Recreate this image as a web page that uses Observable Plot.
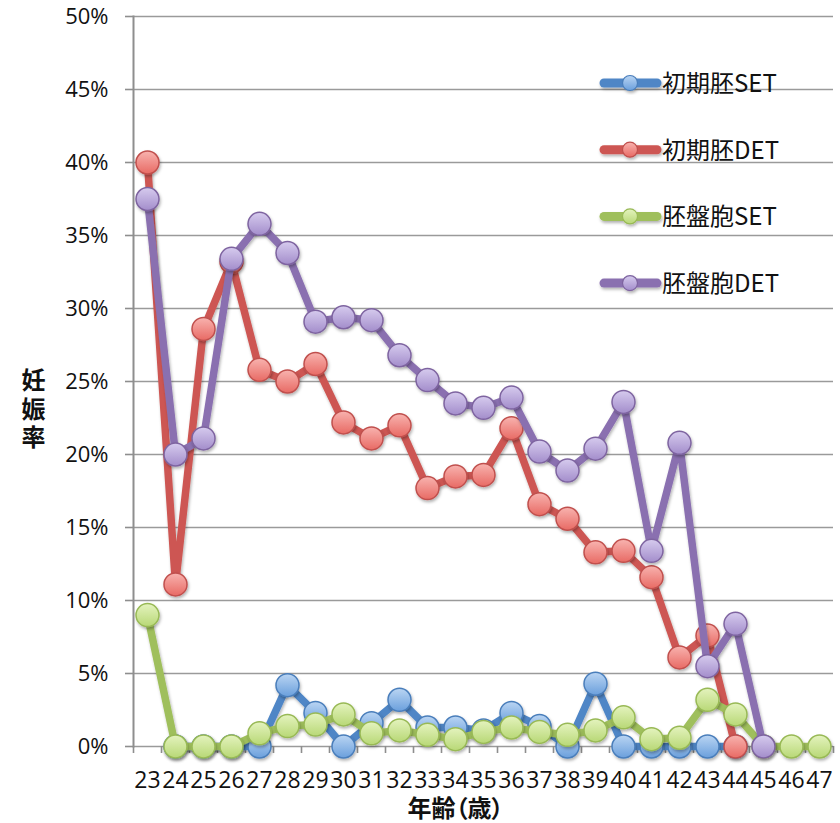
<!DOCTYPE html>
<html>
<head>
<meta charset="utf-8">
<script src="https://cdn.jsdelivr.net/npm/d3@7"></script>
<script src="https://cdn.jsdelivr.net/npm/@observablehq/plot@0.6"></script>
<style>
  html, body { margin: 0; padding: 0; background: #fff; }
  #wrap { position: relative; width: 840px; height: 823px; }
  #legend { position: absolute; left: 0; top: 0; pointer-events: none; }
</style>
</head>
<body>
<div id="wrap"></div>
<script>
// ---- data (pregnancy rate, %) ----
const ages = [23,24,25,26,27,28,29,30,31,32,33,34,35,36,37,38,39,40,41,42,43,44,45,46,47];
const seriesNames = ["初期胚SET", "初期胚DET", "胚盤胞SET", "胚盤胞DET"];
const earlySET = [null,0,0,0,0,4.2,2.3,0,1.6,3.2,1.3,1.3,1.1,2.3,1.4,0,4.3,0,0,0,0,0,null,null,null];
const earlyDET = [40.0,11.1,28.6,33.2,25.8,25.0,26.2,22.2,21.1,22.0,17.7,18.5,18.6,21.8,16.6,15.6,13.3,13.4,11.6,6.1,7.6,0,null,null,null];
const blastSET = [9.0,0,0,0,0.9,1.4,1.5,2.2,0.9,1.1,0.8,0.5,1.0,1.3,1.0,0.8,1.1,2.0,0.5,0.6,3.2,2.2,0,0,0];
const blastDET = [37.5,20.0,21.1,33.4,35.8,33.8,29.1,29.4,29.2,26.8,25.1,23.5,23.2,23.9,20.2,18.9,20.4,23.6,13.4,20.8,5.5,8.4,0,null,null];
const yTicks = [0,5,10,15,20,25,30,35,40,45,50];
const yLabel = "妊娠率";
const xLabel = "年齢（歳）";

// ---- styles ----
const styles = [
  {id: "gBlue",   line: "#4F86C6", stroke: "#4A7EBB", top: "#BAD5F3", bottom: "#6A9FDC"},
  {id: "gRed",    line: "#CD5753", stroke: "#C0504D", top: "#F8B3AF", bottom: "#E86A64"},
  {id: "gGreen",  line: "#9FBF5C", stroke: "#98B955", top: "#E4F3BE", bottom: "#B8D876"},
  {id: "gPurple", line: "#8A70B0", stroke: "#7E64A0", top: "#D6CBEE", bottom: "#A38DCB"}
];
const allSeries = [earlySET, earlyDET, blastSET, blastDET];

const marks = [
  Plot.gridY(yTicks, {stroke: "#9a9a9a", strokeOpacity: 1, strokeWidth: 1.6}),
  Plot.frame({anchor: "left", stroke: "#8e8e8e", strokeWidth: 2}),
  Plot.axisY(yTicks, {tickSize: 8, tickPadding: 17, fontSize: 22, stroke: "#8e8e8e", strokeWidth: 1.6, label: null, tickFormat: d => d + "%"}),
  Plot.axisX(ages, {tickSize: 7, dx: -14, stroke: "#8e8e8e", strokeWidth: 1.6, tickFormat: () => "", label: null}),
  Plot.axisX([ages[ages.length - 1]], {tickSize: 7, dx: 14, stroke: "#8e8e8e", strokeWidth: 1.6, tickFormat: () => "", label: null}),
  Plot.axisX(ages, {tickSize: 0, tickPadding: 25, fontSize: 23, label: null}),
  Plot.text([yLabel.split("").join("\n")], {frameAnchor: "left", dx: -100, dy: 27, text: d => d, fontSize: 24, fontWeight: "bold", lineHeight: 1.17, fontFamily: "Noto Sans CJK JP", textAnchor: "middle", fill: "#111"}),
  Plot.text([xLabel], {frameAnchor: "bottom", dx: -28, dy: 70, text: d => d, fontSize: 24, fontWeight: "bold", fontFamily: "Noto Sans CJK JP", fill: "#111"})
];

allSeries.forEach((vals, k) => {
  const s = styles[k];
  marks.push(Plot.line(ages, {x: d => d, y: (d, i) => vals[i], stroke: s.line, strokeWidth: 7.5, strokeLinejoin: "round", strokeLinecap: "round"}));
  marks.push(Plot.dot(ages, {x: d => d, y: (d, i) => vals[i], r: 11.5, fill: `url(#${s.id})`, stroke: s.stroke, strokeWidth: 1.5}));
});

const chart = Plot.plot({
  width: 840,
  height: 823,
  marginLeft: 133,
  marginRight: 7,
  marginTop: 16,
  marginBottom: 77,
  style: {fontFamily: "'Open Sans', sans-serif", color: "#111", background: "#fff"},
  x: {type: "point", domain: ages, padding: 0.5, axis: null},
  y: {domain: [0, 50], axis: null},
  marks
});

// gradients + shadow
const svg = d3.select(chart);
const defs = svg.insert("defs", ":first-child");
styles.forEach(s => {
  const g = defs.append("linearGradient").attr("id", s.id).attr("x1", 0).attr("y1", 0).attr("x2", 0).attr("y2", 1);
  g.append("stop").attr("offset", "0%").attr("stop-color", s.top);
  g.append("stop").attr("offset", "100%").attr("stop-color", s.bottom);
});
const f = defs.append("filter").attr("id", "shadow").attr("x", "-30%").attr("y", "-30%").attr("width", "160%").attr("height", "160%");
f.append("feDropShadow").attr("dx", 1).attr("dy", 2).attr("stdDeviation", 1.5).attr("flood-color", "#000").attr("flood-opacity", 0.3);
svg.selectAll('g[aria-label="dot"], g[aria-label="line"]').attr("filter", "url(#shadow)");
svg.selectAll("text").style("font-feature-settings", "'palt'");

document.getElementById("wrap").appendChild(chart);

// legend overlay
const leg = d3.select("#wrap").append("svg").attr("id", "legend").attr("width", 840).attr("height", 823);
const legY0 = 83, legStep = 66.7;
seriesNames.forEach((name, k) => {
  const s = styles[k];
  const y = legY0 + k * legStep;
  const g = leg.append("g").attr("filter", "url(#shadow)");
  g.append("line").attr("x1", 604).attr("x2", 657).attr("y1", y).attr("y2", y)
    .attr("stroke", s.line).attr("stroke-width", 9).attr("stroke-linecap", "round");
  g.append("circle").attr("cx", 630).attr("cy", y).attr("r", 7.5)
    .attr("fill", `url(#${s.id})`).attr("stroke", s.stroke).attr("stroke-width", 1.2);
  leg.append("text").attr("x", 662).attr("y", y + 9).text(name)
    .attr("font-size", 24).attr("font-family", "'Noto Sans CJK JP', sans-serif").attr("fill", "#111");
});
</script>
</body>
</html>
